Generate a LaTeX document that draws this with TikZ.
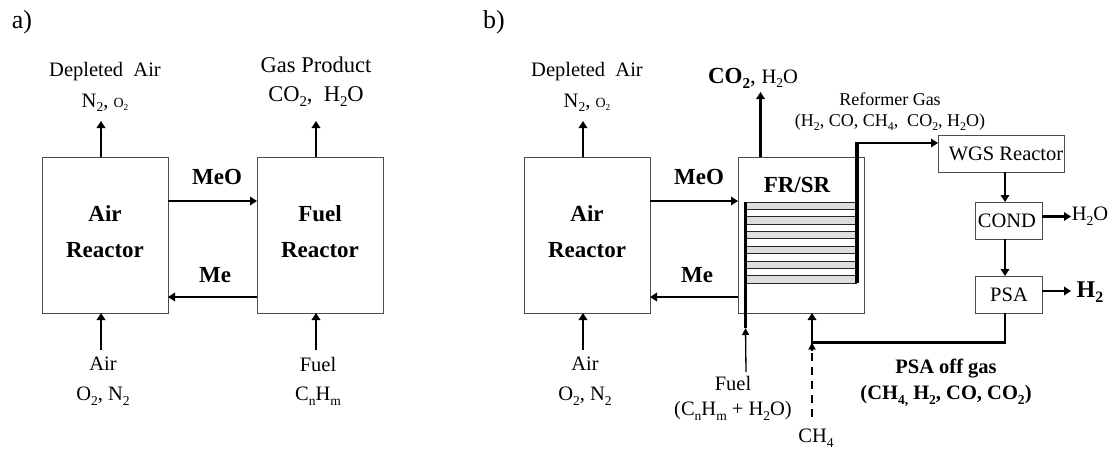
\documentclass[tikz,border=0pt]{standalone}
\usepackage{fontspec}
\usepackage{graphicx}
\setmainfont{Liberation Serif}
\usetikzlibrary{arrows.meta}
\newcommand\dn[1]{\raisebox{-.22em}{\scalebox{.66}{#1}}}
\newcommand\fs[1]{\fontsize{#1}{#1}\selectfont}
\tikzset{
  boxn/.style={draw=black!70,line width=.9pt,inner sep=0pt,outer sep=0pt,fill=white},
  txt/.style={inner sep=0pt,outer sep=0pt,align=center,anchor=center,font=\fs{20.5}},
  bigb/.style={txt,font=\fs{23}\bfseries},
  flow/.style={line width=2.4pt,-{Triangle[length=7pt,width=8.5pt]}},
  thin flow/.style={line width=1.3pt,-{Triangle[length=7pt,width=7pt]}},
  heavy/.style={line width=3.6pt},
}
\begin{document}
\begin{tikzpicture}[x=1pt,y=-1pt]
\useasboundingbox (0,0) rectangle (1115,455);
% panel labels
\node[txt,font=\fs{26}] (la) at (22,22) {a)};
\node[txt,font=\fs{26}] (lb) at (494,22) {b)};
% panel a boxes
\node[boxn,minimum width=126pt,minimum height=156pt] (airA) at (105,235) {};
\node[boxn,minimum width=126pt,minimum height=156pt] (fuelA) at (320,235) {};
\node[bigb] (airAt1) at (105,214) {Air};
\node[bigb] (airAt2) at (105,250) {Reactor};
\node[bigb] (fuelAt1) at (320,214) {Fuel};
\node[bigb] (fuelAt2) at (320,250) {Reactor};
% panel a labels
\node[txt] (depA) at (105,72) {Depleted\ \ Air};
\node[txt] (depAf) at (105,103) {N\dn{2}, {\fs{14}O\dn{2}}};
\node[txt,font=\fs{22.5}] (gasA) at (316,65) {Gas Product};
\node[txt,font=\fs{22.5}] (gasAf) at (316,97) {CO\dn{2},\ \ H\dn{2}O};
\node[bigb] (meoA) at (217,177) {MeO};
\node[bigb] (meA) at (215,275) {Me};
\node[txt] (inA) at (103,364) {Air};
\node[txt] (inAf) at (103,396) {O\dn{2}, N\dn{2}};
\node[txt] (inF) at (318,364) {Fuel};
\node[txt] (inFf) at (318,396) {C\dn{n}H\dn{m}};
% panel a connectors
\coordinate (a1) at (101,121);
\coordinate (a2) at (316,121);
\coordinate (a3) at (101,350);
\coordinate (a4) at (316,350);
\draw[flow] (a1 |- airA.north) -- (a1);
\draw[flow] (a2 |- fuelA.north) -- (a2);
\draw[flow] (a3) -- (a3 |- airA.south);
\draw[flow] (a4) -- (a4 |- fuelA.south);
\coordinate (a5) at (0,201);
\coordinate (a6) at (0,297);
\draw[flow] (airA.east |- a5) -- (fuelA.west |- a5);
\draw[flow] (fuelA.west |- a6) -- (airA.east |- a6);
% panel b boxes
\node[boxn,minimum width=126pt,minimum height=156pt] (airB) at (587,235) {};
\node[boxn,minimum width=126pt,minimum height=156pt] (fr) at (801,235) {};
\node[boxn,minimum width=126pt,minimum height=37pt] (wgs) at (1001,153.5) {};
\node[boxn,minimum width=67pt,minimum height=37pt] (cond) at (1008.5,220.5) {};
\node[boxn,minimum width=67pt,minimum height=37pt] (psa) at (1008.5,294.5) {};
\node[txt] (wgst) at (1006,154) {WGS Reactor};
\node[txt] (condt) at (1007,221) {COND};
\node[txt] (psat) at (1009,295) {PSA};
\node[bigb] (airBt1) at (587,214) {Air};
\node[bigb] (airBt2) at (587,250) {Reactor};
\node[bigb] (frt) at (797,185) {FR/SR};
% coil
\foreach \i in {0,...,5}{
  \fill[black!13] (746,{202+\i*14.75}) rectangle (857,{209.4+\i*14.75});
}
\foreach \i in {0,...,11}{
  \draw[line width=.9pt,black!85] (746,{202+\i*7.38}) -- (857,{202+\i*7.38});
}
\coordinate (coilL) at (745.5,202);
\coordinate (coilLb) at (745.5,328);
\coordinate (coilR) at (857,283);
\coordinate (coilRt) at (857,143);
\draw[heavy] (coilL) -- (coilLb);
\draw[heavy] (coilR) -- (coilRt);
\draw[flow] ([xshift=-1.8pt]coilRt) -- (wgs.west |- coilRt);
% panel b labels
\node[txt] (depB) at (587,72) {Depleted\ \ Air};
\node[txt] (depBf) at (587,103) {N\dn{2}, {\fs{14}O\dn{2}}};
\node[txt,font=\fs{23}] (co2) at (753,78) {\textbf{CO\dn{2}},\ {\fs{20.5}H\dn{2}O}};
\node[txt,font=\fs{18}] (ref) at (890,99) {Reformer Gas};
\node[txt,font=\fs{18}] (reff) at (890,122) {(H\dn{2}, CO, CH\dn{4},\ \ CO\dn{2}, H\dn{2}O)};
\node[bigb] (meoB) at (699,177) {MeO};
\node[bigb] (meB) at (697,275) {Me};
\node[txt] (inB) at (585,364) {Air};
\node[txt] (inBf) at (585,396) {O\dn{2}, N\dn{2}};
\node[txt] (fuelB) at (733,383) {Fuel};
\node[txt] (fuelBf) at (733,411) {(C\dn{n}H\dn{m} + H\dn{2}O)};
\node[txt] (ch4) at (816,438) {CH\dn{4}};
\node[txt] (h2o) at (1090,216) {H\dn{2}O};
\node[txt,font=\fs{24}\bfseries] (h2) at (1090,292) {H\dn{2}};
\node[txt,font=\fs{20.5}\bfseries] (off) at (946,369) {PSA off gas};
\node[txt,font=\fs{20.5}\bfseries] (offf) at (946,396) {(CH\dn{4,} H\dn{2}, CO, CO\dn{2})};
% panel b connectors
\coordinate (b1) at (583,121);
\coordinate (b2) at (760.5,92);
\coordinate (b3) at (583,350);
\coordinate (b4) at (746,372);
\coordinate (b5) at (812,417);
\coordinate (b6) at (812,342.5);
\coordinate (b7) at (1005,342.5);
\coordinate (b8) at (1071,216.5);
\coordinate (b9) at (1071,291);
\draw[flow] (b1 |- airB.north) -- (b1);
\draw[flow] (b2 |- fr.north) -- (b2);
\draw[flow] (b3) -- (b3 |- airB.south);
\draw[flow] (airB.east |- a5) -- (fr.west |- a5);
\draw[flow] (fr.west |- a6) -- (airB.east |- a6);
\draw[thin flow] (b4) -- (coilLb);
\draw[flow,line join=miter] (b7 |- psa.south) -- (b7) -- (b6) -- (b6 |- fr.south);
\draw[line width=1.3pt,dash pattern=on 8pt off 6pt] (b5) -- (812,351);
\draw[thin flow] (812,351) -- (b6);
\draw[flow] (b7 |- wgs.south) -- (b7 |- cond.north);
\draw[flow] (b7 |- cond.south) -- (b7 |- psa.north);
\draw[flow] (cond.east |- b8) -- (b8);
\draw[flow] (psa.east |- b9) -- (b9);
\end{tikzpicture}
\end{document}
